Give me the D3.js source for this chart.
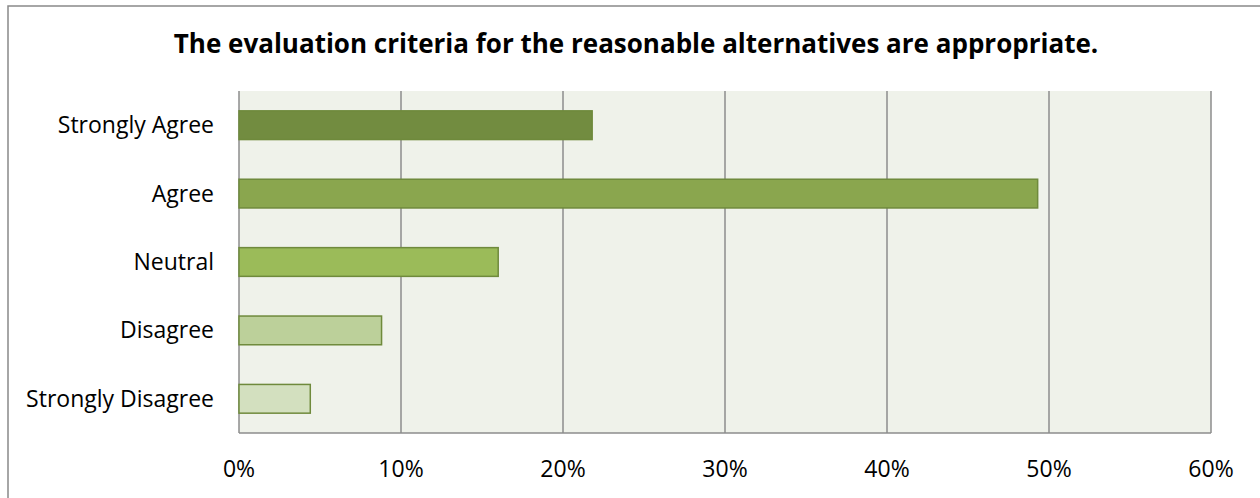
<!DOCTYPE html>
<html>
<head>
<meta charset="utf-8">
<script src="https://cdn.jsdelivr.net/npm/d3@7"></script>
<style>
  body { margin: 0; background: #fff; }
  svg text { font-family: "Open Sans", "Noto Sans", sans-serif; fill: #000; }
</style>
</head>
<body>
<div id="chart"></div>
<script>
var categories = ["Strongly Agree", "Agree", "Neutral", "Disagree", "Strongly Disagree"];
var values = [0.218, 0.493, 0.160, 0.088, 0.044];
var fills = ["#728c40", "#8aa64e", "#9bbb59", "#bcd09a", "#d3e0bf"];
var ticks = [0, 0.1, 0.2, 0.3, 0.4, 0.5, 0.6];
var title = "The evaluation criteria for the reasonable alternatives are appropriate.";

function chart() {
  var w = 1260;
  var h = 498;
  var left = 239, right = 1211, top = 91, bottom = 433;

  var svg = d3.select("#chart")
              .append("svg")
              .attr("width", w)
              .attr("height", h);

  // outer chart border (runs off the right and bottom edges)
  svg.append("rect")
     .attr("x", 8).attr("y", 6)
     .attr("width", 1400).attr("height", 700)
     .attr("fill", "#fff")
     .attr("stroke", "#898989")
     .attr("stroke-width", 1.5);

  var x = d3.scaleLinear().domain([0, 0.6]).range([left, right]);
  var y = d3.scaleBand().domain(categories).range([top, bottom]).paddingInner(0.58).paddingOuter(0.29);

  // plot background
  svg.append("rect")
     .attr("x", left).attr("y", top)
     .attr("width", right - left).attr("height", bottom - top)
     .attr("fill", "#eff2ea");

  // gridlines
  svg.selectAll("line.grid")
     .data(ticks)
     .enter()
     .append("line")
     .attr("class", "grid")
     .attr("x1", function(d) { return x(d); })
     .attr("x2", function(d) { return x(d); })
     .attr("y1", top)
     .attr("y2", bottom)
     .attr("stroke", "#8c8c8c")
     .attr("stroke-width", 1.5);

  svg.append("line")
     .attr("x1", left).attr("x2", right)
     .attr("y1", bottom).attr("y2", bottom)
     .attr("stroke", "#8c8c8c")
     .attr("stroke-width", 1.5);

  // bars
  svg.selectAll("rect.bar")
     .data(values)
     .enter()
     .append("rect")
     .attr("class", "bar")
     .attr("x", x(0))
     .attr("y", function(d, i) { return y(categories[i]); })
     .attr("width", function(d) { return x(d) - x(0); })
     .attr("height", y.bandwidth())
     .attr("fill", function(d, i) { return fills[i]; })
     .attr("stroke", "#6f8a3c")
     .attr("stroke-width", 1.5);

  // category labels
  svg.selectAll("text.cat")
     .data(categories)
     .enter()
     .append("text")
     .attr("class", "cat")
     .attr("x", 214)
     .attr("y", function(d) { return y(d) + y.bandwidth() / 2; })
     .attr("dy", "0.35em")
     .attr("text-anchor", "end")
     .style("font-size", "23px")
     .text(function(d) { return d; });

  // tick labels
  svg.selectAll("text.tick")
     .data(ticks)
     .enter()
     .append("text")
     .attr("class", "tick")
     .attr("x", function(d) { return x(d); })
     .attr("y", 477)
     .attr("text-anchor", "middle")
     .style("font-size", "23px")
     .text(d3.format(".0%"));

  svg.append("text")
     .attr("x", 636)
     .attr("y", 53)
     .attr("text-anchor", "middle")
     .style("font-size", "26px")
     .style("font-weight", "bold")
     .text(title);
}

window.onload = function() {
  chart();
};
</script>
</body>
</html>
